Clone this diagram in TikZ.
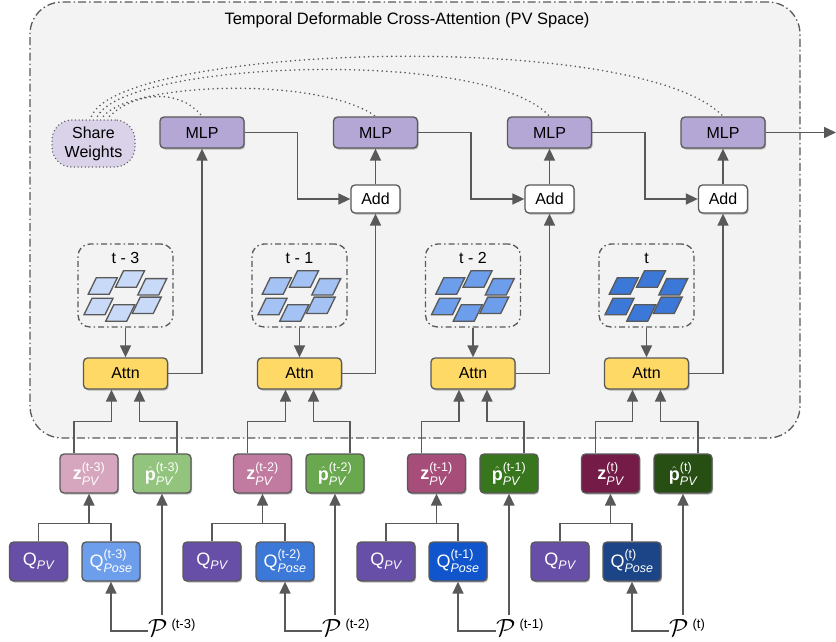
\documentclass[tikz,border=0pt]{standalone}
\usepackage{fontspec}
\setmainfont{Liberation Sans}
\usepackage{amsmath}
\usetikzlibrary{arrows.meta,shadows,calc}
\DeclareMathSizes{18}{18}{12.5}{9}
\definecolor{lc}{HTML}{595959}
\definecolor{bgc}{HTML}{F3F3F3}
\definecolor{mlpc}{HTML}{B4A7D6}
\definecolor{attnc}{HTML}{FFD966}
\definecolor{swc}{HTML}{D9D2E9}
\definecolor{zc1}{HTML}{D5A6BD}
\definecolor{zc2}{HTML}{C27BA0}
\definecolor{zc3}{HTML}{A64D79}
\definecolor{zc4}{HTML}{741B47}
\definecolor{hc1}{HTML}{93C47D}
\definecolor{hc2}{HTML}{6AA84F}
\definecolor{hc3}{HTML}{38761D}
\definecolor{hc4}{HTML}{274E13}
\definecolor{qvc}{HTML}{674EA7}
\definecolor{qc1}{HTML}{6D9EEB}
\definecolor{qc2}{HTML}{3C78D8}
\definecolor{qc3}{HTML}{1155CC}
\definecolor{qc4}{HTML}{1C4587}
\definecolor{pt1}{HTML}{C9DAF8}
\definecolor{pt2}{HTML}{A4C2F4}
\definecolor{pt3}{HTML}{6D9EEB}
\definecolor{pt4}{HTML}{3C78D8}
\tikzset{
  shad/.style={drop shadow={shadow xshift=1.2pt,shadow yshift=-1.5pt,opacity=0.25,fill=black}},
  box/.style={draw=lc, line width=1.3pt, rounded corners=4pt, minimum width=84pt, minimum height=31pt,
    inner sep=1pt, font=\fontsize{16}{18}\selectfont, shad},
  mlp/.style={box, fill=mlpc},
  attn/.style={box, fill=attnc},
  addbox/.style={box, fill=white, minimum width=49pt, minimum height=28pt},
  small/.style={box, minimum width=58pt, minimum height=39pt, text=white, font=\fontsize{18}{20}\selectfont},
  pbox/.style={draw=lc, line width=1.3pt, dash pattern=on 6pt off 3pt on 1.5pt off 3pt,
    rounded corners=12pt, minimum width=95pt, minimum height=83pt},
  lab/.style={font=\fontsize{16}{18}\selectfont, inner sep=1pt},
  plab/.style={inner sep=0pt, anchor=base west, font=\fontsize{24}{26}\selectfont},
  ln/.style={draw=lc, line width=1.6pt},
  arr/.style={ln, -{Triangle[length=12pt,width=11pt]}},
  dots/.style={draw=lc, line width=1.8pt, line cap=round, dash pattern=on 0pt off 4.6pt},
  patchset/.pic={
    \foreach \cx/\cy in {-22.75/0.5, 4.5/-6.5, 26.75/1.3, -27/21, -5.25/27.5, 21.25/19.8}
      \draw[pic actions, draw=lc, line width=1.3pt] (\cx-6.5,\cy-8.2) -- (\cx+14.5,\cy-8.2) -- (\cx+6.5,\cy+8.2) -- (\cx-14.5,\cy+8.2) -- cycle;
  }
}
\begin{document}
\begin{tikzpicture}[x=1pt,y=-1pt]
\useasboundingbox (0,0) rectangle (836,642);
% main region
\node[draw=lc, line width=1.3pt, dash pattern=on 8pt off 3pt on 1.5pt off 3pt, rounded corners=32pt,
  fill=bgc, minimum width=770pt, minimum height=436pt] (main) at (415,220) {};
\node[font=\fontsize{16.5}{18}\selectfont, inner sep=1pt] (title) at (407,20) {Temporal Deformable Cross-Attention (PV Space)};
% share weights
\node[draw=lc, line width=1.5pt, line cap=round, dash pattern=on 0pt off 3.6pt, fill=swc, rounded corners=20pt,
  minimum width=83pt, minimum height=47pt, align=center, font=\fontsize{16}{19}\selectfont, inner sep=1pt]
  (SW) at (93.5,143.5) {Share\\Weights};
% groups
\foreach \i/\mx/\ax/\zx/\hx/\qvx/\qpx/\pw/\lab/\tsup in {
  1/202/125.5/89/162/38.5/111/148/{t - 3}/{t-3},
  2/375.5/299.5/262.5/335/212/285/322/{t - 1}/{t-2},
  3/549.5/473/436.5/509/386/458/496/{t - 2}/{t-1},
  4/723/646.5/610.5/683/560/632/669/{t}/{t}}
{
  \node[mlp] (M\i) at (\mx,132.5) {MLP};
  \node[pbox] (B\i) at (\ax,285.5) {};
  \node[lab] (L\i) at (\ax,258) {\lab};
  \pic[fill=pt\i] at (\ax,285.5) {patchset};
  \node[attn] (A\i) at (\ax,373.5) {Attn};
  \node[small, fill=zc\i] (Z\i) at (\zx,473.5) {$\textbf{z}^{\text{(\tsup)}}_{\textit{PV}}$};
  \node[small, fill=hc\i] (H\i) at (\hx,473.5) {$\hat{\textbf{p}}^{\text{(\tsup)}}_{\textit{PV}}$};
  \node[small, fill=qvc] (QV\i) at (\qvx,561.5) {$\text{Q}_{\textit{PV}}$};
  \node[small, fill=qc\i] (QP\i) at (\qpx,561.5) {$\text{Q}^{\text{(\tsup)}}_{\textit{Pose}}$};
  \node[plab] (P\i) at (\pw,636) {$\mathcal{P}$\,\raisebox{8pt}{\fontsize{13}{14}\selectfont(\tsup)}};
  % connectors
  \draw[arr] (B\i.south) -- (A\i.north);
  \draw[arr] ([xshift=-15pt]Z\i.north) -- ++(0,-32) -| ([xshift=-14pt]A\i.south);
  \draw[arr] ([xshift=15pt]H\i.north) -- ++(0,-32) -| ([xshift=14pt]A\i.south);
  \draw[ln] (QV\i.north) -- ++(0,-18) -| (QP\i.north);
  \draw[arr] ($(QV\i.north -| Z\i.south)+(0,-18)$) -- (Z\i.south);
  \draw[arr] ([yshift=5pt]P\i.base west) -| (QP\i.south);
  \draw[arr] ($(H\i.south |- P\i.north)+(0,-3)$) -- (H\i.south);
}
% add nodes
\node[addbox] (D2) at (375.5,199) {Add};
\node[addbox] (D3) at (549.5,199) {Add};
\node[addbox] (D4) at (723,199) {Add};
\draw[arr] (A1.east) -| (M1.south);
\foreach \i in {2,3,4}{
  \draw[arr] (A\i.east) -| (D\i.south);
  \draw[arr] (D\i.north) -- (M\i.south);
}
\draw[arr] (M1.east) -| ($(M1.east)!.5!(D2.west)$) |- (D2.west);
\draw[arr] (M2.east) -| ($(M2.east)!.5!(D3.west)$) |- (D3.west);
\draw[arr] (M3.east) -| ($(M3.east)!.5!(D4.west)$) |- (D4.west);
\coordinate (out) at (836,132.5);
\draw[arr] (M4.east) -- (out);
% shared weights curves
\draw[dots] ($(SW.north)+(-2,-3)$) .. controls (120,45) and (640,28) .. (M4.north);
\draw[dots] ($(SW.north)+(4,-3)$) .. controls (128,60) and (490,48) .. (M3.north);
\draw[dots] ($(SW.north)+(10,-3)$) .. controls (132,82) and (320,76) .. (M2.north);
\draw[dots] ($(SW.north)+(16,-3)$) .. controls (135,92) and (180,88) .. (M1.north);
\end{tikzpicture}
\end{document}
